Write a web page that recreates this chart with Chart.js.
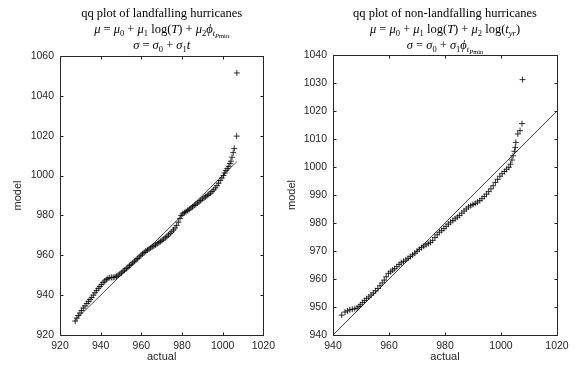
<!DOCTYPE html>
<html>
<head>
<meta charset="utf-8">
<script src="https://cdn.jsdelivr.net/npm/chart.js@4"></script>
<style>
  html, body { margin: 0; padding: 0; background: #fff; }
  #wrap { width: 575px; height: 377px; display: flex; }
  .cell { position: relative; height: 377px; }
</style>
</head>
<body>
<div id="wrap">
  <div class="cell" style="width:280px"><canvas id="left"></canvas></div>
  <div class="cell" style="width:295px"><canvas id="right"></canvas></div>
</div>
<script>
// landfalling hurricanes: sorted actual vs sorted model pressures
const landActual = [927.5, 928.3, 929, 929.8, 930.6, 931.5, 932.3, 933.2, 934, 934.8, 935.6, 936.4, 937.2, 938, 938.8, 939.6,
  940.4, 941.2, 942, 942.8, 943.6, 944.5, 945.4, 946.2, 947, 947.8, 948.6, 949.4, 950.2, 951, 951.8, 952.6, 953.4, 954.2,
  955, 955.8, 956.6, 957.4, 958.2, 959, 959.8, 960.6, 961.4, 962.2, 963, 963.8, 964.6, 965.4, 966.2, 967, 967.8, 968.6,
  969.4, 970.2, 971, 971.8, 972.6, 973.4, 974.2, 975, 975.8, 976.6, 977.4, 978.2, 979, 979.6, 980.4, 981.2, 982, 982.8,
  983.6, 984.4, 985.2, 986, 986.8, 987.6, 988.4, 989.2, 990, 990.8, 991.6, 992.4, 993.2, 994, 994.8, 995.6, 996.4, 997.2,
  998, 998.8, 999.6, 1000.4, 1001, 1001.6, 1002.3, 1003, 1003.6, 1004.1, 1004.6, 1005.2, 1005.7, 1006.9, 1007];
const landModel = [927, 928.5, 929.8, 931, 932.3, 933.5, 934.6, 935.8, 936.8, 937.8, 938.8, 940, 941.2, 942.3, 943.4, 944.3,
  945.3, 946.3, 947.1, 947.8, 948.4, 948.8, 948.9, 948.9, 949, 949.4, 950, 950.6, 951.2, 952, 952.6, 953.3, 954, 954.8,
  955.5, 956.2, 957, 957.7, 958.4, 959.2, 960, 960.7, 961.4, 962.1, 962.6, 963.1, 963.7, 964.3, 964.7, 965.2, 965.8, 966.4,
  966.9, 967.5, 968.1, 968.8, 969.5, 970.2, 971, 971.8, 972.7, 973.7, 975, 976.6, 978.5, 980, 980.8, 981.4, 981.9, 982.5,
  983.1, 983.7, 984.3, 985, 985.6, 986.2, 986.8, 987.5, 988.2, 988.8, 989.4, 990, 990.6, 991.2, 992, 992.9, 993.8, 994.9,
  996.2, 997.5, 998.8, 1000, 1001.3, 1002.5, 1003.5, 1004.6, 1006, 1007.2, 1009.2, 1011.5, 1013.6, 1019.8, 1051.5];
const landRefX = [927, 1007];
const landRefY = [927, 1007];

// non-landfalling hurricanes
const seaActual = [943.1, 944.3, 945.2, 946, 946.9, 947.8, 948.6, 949.3, 949.9, 950.6, 951.3, 952, 952.8, 953.6, 954.4,
  955.2, 956, 956.8, 957.6, 958.3, 959, 959.8, 960.6, 961.3, 962, 962.8, 963.6, 964.4, 965.2, 966, 966.8, 967.6, 968.4,
  969.2, 970, 970.8, 971.6, 972.4, 973.2, 974, 974.8, 975.6, 976.4, 977.2, 978, 978.8, 979.6, 980.4, 981.2, 982, 982.8,
  983.6, 984.4, 985.2, 986, 986.8, 987.6, 988.4, 989.2, 990, 990.8, 991.6, 992.4, 993.2, 994, 994.8, 995.6, 996.4, 997.2,
  998, 998.8, 999.6, 1000.4, 1001.2, 1002, 1002.8, 1003.4, 1003.9, 1004.3, 1004.8, 1005.1, 1005.3, 1006, 1006.8, 1007.5, 1007.7];
const seaModel = [947.1, 948.2, 948.6, 949, 949.2, 949.4, 949.6, 950.2, 950.8, 951.6, 952.3, 953, 953.6, 954.3, 955,
  955.8, 956.6, 957.6, 958.6, 959.6, 960.8, 962, 962.6, 963.2, 963.7, 964.4, 965.2, 965.8, 966.3, 966.8, 967.4, 968, 968.6,
  969.2, 969.9, 970.6, 971.2, 971.7, 972.2, 972.6, 973.1, 973.8, 974.8, 975.8, 976.7, 977.3, 978, 978.8, 979.6, 980.3, 980.9,
  981.5, 982.1, 982.7, 983.5, 984.3, 985, 985.7, 986.2, 986.6, 987, 987.5, 988, 988.7, 989.5, 990.3, 991.2, 992.2, 993.3,
  994.5, 995.6, 996.7, 997.6, 998.4, 999.2, 999.9, 1001, 1002.5, 1004, 1005.6, 1007, 1008.8, 1011.8, 1013, 1015.5, 1031.2];
const seaRefX = [940, 1020];
const seaRefY = [940, 1020];

const landXTicks = [920, 940, 960, 980, 1000, 1020];
const landYTicks = [920, 940, 960, 980, 1000, 1020, 1040, 1060];
const seaXTicks = [940, 960, 980, 1000, 1020];
const seaYTicks = [940, 950, 960, 970, 980, 990, 1000, 1010, 1020, 1030, 1040];

// title lines: [text, italic, level] (level 1 = subscript, 2 = sub-subscript)
const landTitle = [
  [['qq plot of landfalling hurricanes', false, 0]],
  [['μ', true, 0], [' = ', false, 0], ['μ', true, 0], ['0', false, 1], [' + ', false, 0], ['μ', true, 0], ['1', false, 1],
   [' log(', false, 0], ['T', true, 0], [') + ', false, 0], ['μ', true, 0], ['2', false, 1], ['ϕ', true, 0],
   ['t', true, 1], ['P', true, 2], ['min', false, 2]],
  [['σ', true, 0], [' = ', false, 0], ['σ', true, 0], ['0', false, 1], [' + ', false, 0], ['σ', true, 0], ['1', false, 1], ['t', true, 0]]
];
const seaTitle = [
  [['qq plot of non-landfalling hurricanes', false, 0]],
  [['μ', true, 0], [' = ', false, 0], ['μ', true, 0], ['0', false, 1], [' + ', false, 0], ['μ', true, 0], ['1', false, 1],
   [' log(', false, 0], ['T', true, 0], [') + ', false, 0], ['μ', true, 0], ['2', false, 1], [' log(', false, 0],
   ['t', true, 0], ['yr', true, 1], [')', false, 0]],
  [['σ', true, 0], [' = ', false, 0], ['σ', true, 0], ['0', false, 1], [' + ', false, 0], ['σ', true, 0], ['1', false, 1],
   ['ϕ', true, 0], ['t', true, 1], ['P', true, 2], ['min', false, 2]]
];

const INK = '#262626';
const sizes = [12.5, 8.5, 6.5];
const shifts = [0, 3, 5];

const mathTitle = {
  id: 'mathTitle',
  afterDraw(chart, args, opts) {
    const ctx = chart.ctx;
    const a = chart.chartArea;
    const cx = (a.left + a.right) / 2;
    const fontFor = s => (s[1] ? 'italic ' : '') + sizes[s[2]] + 'px "Liberation Serif", serif';
    ctx.save();
    ctx.fillStyle = '#000';
    ctx.textBaseline = 'alphabetic';
    opts.lines.forEach((segs, i) => {
      let w = 0;
      segs.forEach(s => { ctx.font = fontFor(s); w += ctx.measureText(s[0]).width; });
      let x = cx - w / 2;
      segs.forEach(s => {
        ctx.font = fontFor(s);
        ctx.fillText(s[0], x, opts.baselines[i] + shifts[s[2]]);
        x += ctx.measureText(s[0]).width;
      });
    });
    ctx.restore();
  }
};

// matlab style box with inward ticks on all four sides
const boxTicks = {
  id: 'boxTicks',
  afterDraw(chart) {
    const {ctx, chartArea: a, scales: {x, y}} = chart;
    const L = Math.round(a.left) + 0.5, R = Math.round(a.right) + 0.5;
    const T = Math.round(a.top) + 0.5, B = Math.round(a.bottom) + 0.5;
    const len = 3;
    ctx.save();
    ctx.strokeStyle = INK;
    ctx.lineWidth = 1;
    ctx.strokeRect(L, T, R - L, B - T);
    ctx.beginPath();
    x.ticks.forEach(t => {
      const px = Math.round(x.getPixelForValue(t.value)) + 0.5;
      ctx.moveTo(px, B); ctx.lineTo(px, B - len);
      ctx.moveTo(px, T); ctx.lineTo(px, T + len);
    });
    y.ticks.forEach(t => {
      const py = Math.round(y.getPixelForValue(t.value)) + 0.5;
      ctx.moveTo(L, py); ctx.lineTo(L + len, py);
      ctx.moveTo(R, py); ctx.lineTo(R - len, py);
    });
    ctx.stroke();
    ctx.restore();
  }
};

const tickFont = {family: '"Liberation Sans", Arial, sans-serif', size: 10.5};
const labelFont = {family: '"Liberation Sans", Arial, sans-serif', size: 11};

const makeChart = (id, cfg) => {
  const pts = cfg.actual.map((v, i) => ({x: v, y: cfg.model[i]}));
  const ref = cfg.refX.map((v, i) => ({x: v, y: cfg.refY[i]}));
  return new Chart(document.getElementById(id), {
    type: 'scatter',
    data: {
      datasets: [
        {
          data: pts,
          pointStyle: 'cross',
          pointRadius: 3,
          pointBorderWidth: 0.8,
          borderColor: '#000',
          backgroundColor: '#000',
          showLine: false
        },
        {
          data: ref,
          showLine: true,
          pointRadius: 0,
          borderColor: '#000',
          borderWidth: 0.7
        }
      ]
    },
    options: {
      responsive: true,
      maintainAspectRatio: false,
      animation: false,
      layout: {padding: cfg.padding},
      plugins: {
        legend: {display: false},
        tooltip: {enabled: false},
        title: {display: false},
        mathTitle: {lines: cfg.title, baselines: cfg.baselines}
      },
      scales: {
        x: {
          type: 'linear',
          min: cfg.xTicks[0],
          max: cfg.xTicks[cfg.xTicks.length - 1],
          afterBuildTicks: s => { s.ticks = cfg.xTicks.map(v => ({value: v})); },
          afterFit: s => { s.height = 42; },
          grid: {display: false, drawTicks: false},
          border: {display: false},
          ticks: {font: tickFont, color: INK, padding: 5, maxRotation: 0, autoSkip: false, callback: v => String(v)},
          title: {display: true, text: 'actual', font: labelFont, color: INK, padding: {top: 0, bottom: 13}}
        },
        y: {
          type: 'linear',
          min: cfg.yTicks[0],
          max: cfg.yTicks[cfg.yTicks.length - 1],
          afterBuildTicks: s => { s.ticks = cfg.yTicks.map(v => ({value: v})); },
          afterFit: s => { s.width = cfg.yWidth; },
          grid: {display: false, drawTicks: false},
          border: {display: false},
          ticks: {font: tickFont, color: INK, padding: 6, autoSkip: false, callback: v => String(v)},
          title: {display: true, text: 'model', font: labelFont, color: INK, padding: {top: cfg.yTitlePad, bottom: 0}}
        }
      }
    },
    plugins: [boxTicks, mathTitle]
  });
};

makeChart('left', {
  actual: landActual, model: landModel, refX: landRefX, refY: landRefY,
  xTicks: landXTicks, yTicks: landYTicks, title: landTitle,
  baselines: [17, 33, 49],
  padding: {top: 56, right: 8, left: 0, bottom: 0},
  yWidth: 60, yTitlePad: 11
});

makeChart('right', {
  actual: seaActual, model: seaModel, refX: seaRefX, refY: seaRefY,
  xTicks: seaXTicks, yTicks: seaYTicks, title: seaTitle,
  baselines: [17, 33, 49],
  padding: {top: 55, right: 18, left: 0, bottom: 0},
  yWidth: 53, yTitlePad: 5
});
</script>
</body>
</html>
